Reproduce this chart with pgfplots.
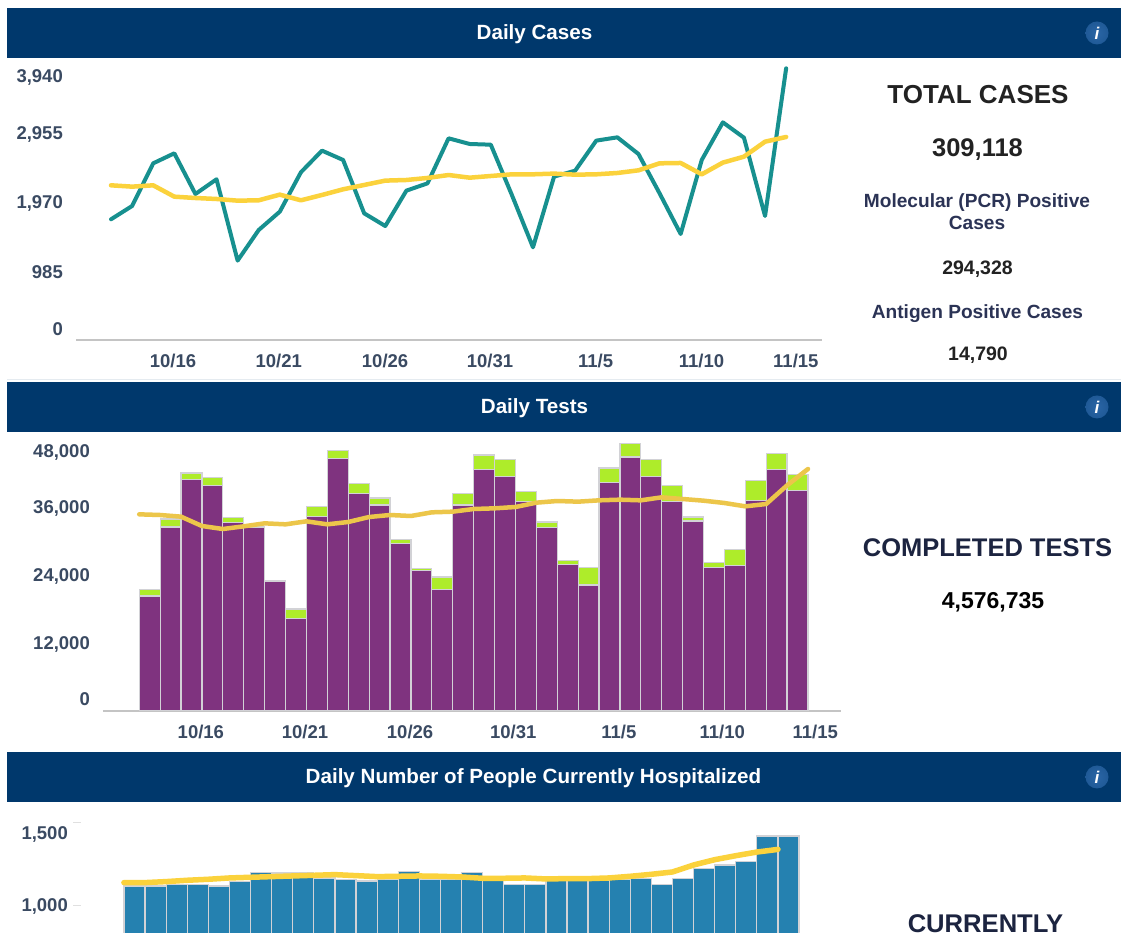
\documentclass[border=0pt]{standalone}
\usepackage{pgfplots}
\usepackage{pgfplotstable}
\usepackage{fontspec}
\setmainfont{Liberation Sans}
\pgfplotsset{compat=1.18}
\definecolor{hdr}{HTML}{00386C}
\definecolor{tickc}{HTML}{3A4A62}
\definecolor{panel}{HTML}{1C2440}
\definecolor{navy2}{HTML}{2B3355}
\definecolor{char}{HTML}{222222}
\definecolor{teal1}{HTML}{17908F}
\definecolor{yel}{HTML}{FBD23C}
\definecolor{yel2}{HTML}{ECC64A}
\definecolor{purp}{HTML}{7F337F}
\definecolor{lime}{HTML}{AEEC2A}
\definecolor{blue1}{HTML}{2581B0}
\definecolor{edge}{HTML}{D2D2D6}
\definecolor{axc}{HTML}{C4C4C4}
\definecolor{icon}{HTML}{2A65A5}

\pgfplotstableread{
i v a
0 1723 2208
1 1913 2189
2 2522 2208
3 2665 2046
4 2084 2027
5 2294 2013
6 1133 1989
7 1570 1994
8 1832 2075
9 2394 1994
10 2703 2070
11 2570 2151
12 1808 2213
13 1627 2275
14 2132 2284
15 2236 2313
16 2879 2355
17 2798 2317
18 2788 2341
19 2070 2365
20 1323 2365
21 2332 2375
22 2417 2360
23 2846 2365
24 2893 2384
25 2655 2422
26 2094 2522
27 1513 2527
28 2570 2365
29 3107 2532
30 2888 2617
31 1770 2831
32 3878 2898
}\casestable

\pgfplotstableread{
i p g
0 20293 1118
1 32469 1412
2 40880 1118
3 39763 1412
4 33292 882
5 32469 30
6 22822 235
7 16293 1706
8 34351 1765
9 44527 1470
10 38351 1765
11 36351 1235
12 29586 647
13 24763 412
14 21410 2235
15 36351 2000
16 42586 2588
17 41409 2941
18 36939 1765
19 32410 941
20 25881 647
21 22234 3117
22 40351 2529
23 44821 2353
24 41409 2941
25 36998 2823
26 33527 706
27 25351 882
28 25646 2882
29 37174 3529
30 42586 2882
31 38939 2823
}\teststable

\pgfplotstableread{
x a
-0.5 34704
0.5 34586
1.5 34292
2.5 32645
3.5 32116
4.5 32586
5.5 33116
6.5 32939
7.5 33469
8.5 32939
9.5 33351
10.5 34233
11.5 34586
12.5 34410
13.5 35057
14.5 35174
15.5 35645
16.5 35763
17.5 35998
18.5 36763
19.5 37057
20.5 36939
21.5 37174
22.5 37292
23.5 37174
24.5 37704
25.5 37410
26.5 37115
27.5 36704
28.5 36115
29.5 36527
30.5 39821
31.5 42703
}\testavg

\pgfplotstableread{
i h
0 1118
1 1118
2 1127
3 1129
4 1118
5 1145
6 1199
7 1197
8 1197
9 1167
10 1159
11 1149
12 1159
13 1207
14 1161
15 1159
16 1199
17 1155
18 1129
19 1129
20 1155
21 1155
22 1155
23 1161
24 1165
25 1129
26 1165
27 1225
28 1245
29 1265
30 1420
31 1420
}\hosptable

\pgfplotstableread{
x a
-0.5 1139
0.5 1139
1.5 1145
2.5 1153
3.5 1159
4.5 1167
5.5 1171
6.5 1175
7.5 1179
8.5 1183
9.5 1187
10.5 1181
11.5 1175
12.5 1177
13.5 1179
14.5 1177
15.5 1173
16.5 1165
17.5 1165
18.5 1167
19.5 1161
20.5 1163
21.5 1163
22.5 1167
23.5 1177
24.5 1189
25.5 1203
26.5 1245
27.5 1277
28.5 1301
29.5 1323
30.5 1339
}\hospavg

\newcommand{\fs}[1]{\fontsize{#1}{#1}\selectfont\bfseries}
% centred text line: x, y of the vertical centre (pixels from the top), size, colour, text
\newcommand{\lab}[5]{%
  \pgfmathsetmacro{\yy}{933-(#2)-0.358*#3}%
  \node[anchor=base,inner sep=0pt,text=#4,font=\fs{#3}] at (#1pt,\yy pt) {#5};}
\newcommand{\header}[3]{%
  \pgfmathsetmacro{\yt}{933-#1}%
  \pgfmathsetmacro{\yb}{933-#1-50}%
  \pgfmathsetmacro{\yc}{933-#1-25}%
  \fill[hdr] (7pt,\yt pt) rectangle (1121pt,\yb pt);
  \shade[inner color=icon,outer color=icon!75!hdr] (1097pt,\yc pt) circle (11.5pt);
  \node[text=white,font=\fontsize{17}{17}\selectfont\bfseries\itshape,inner sep=0pt] at (1097pt,\yc pt) {i};
  \lab{#2}{#1+24.5}{20.6}{white}{#3}}

\pgfplotsset{
  common/.style={
    scale only axis, anchor=south west, axis y line*=left, axis x line*=bottom,
    y axis line style={draw=none},
    x axis line style={draw=axc,line width=1.3pt,-},
    tick style={draw=none}, major tick length=0pt,
    tick label style={font=\fs{18.5},text=tickc},
    scaled y ticks=false,
    yticklabel style={anchor=east,inner sep=0pt,xshift=-13pt,yshift=-1pt},
    xticklabel style={anchor=base,inner sep=0pt,yshift=-27.5pt},
    clip=true,
  },
  line/.style={sharp plot,no markers,line join=round,line cap=round,#1},
}

\begin{document}
\begin{tikzpicture}
\clip (0pt,0pt) rectangle (1121pt,933pt);
\fill[white] (0pt,0pt) rectangle (1121pt,933pt);
\header{8}{534.5}{Daily Cases}
\header{382}{534.5}{Daily Tests}
\header{752}{533.5}{Daily Number of People Currently Hospitalized}
\draw[hdr!10,line width=0.8pt] (7pt,553.5pt) -- (1121pt,553.5pt);

% ---------- Daily cases
\begin{axis}[common, at={(76pt,593pt)}, width=746pt, height=276pt,
  xmin=-1.66, xmax=33.7, ymin=0, ymax=3940,
  ytick={171,985,1970,2955,3755},
  yticklabels={0,985,{1,970},{2,955},{3,940}},
  xtick={2.94,7.95,12.99,17.96,22.97,27.99,32.46},
  xticklabels={10/16,10/21,10/26,10/31,11/5,11/10,11/15}]
\addplot[line={teal1,line width=4pt}] table[x=i,y=v] {\casestable};
\addplot[line={yel,line width=4.5pt}] table[x=i,y=a] {\casestable};
\end{axis}

% ---------- Daily tests
\begin{axis}[common, at={(103pt,222pt)}, width=738pt, height=272pt,
  xmin=-2.234, xmax=33.08, ymin=0, ymax=48000,
  ybar stacked, bar width=1,
  ytick={2294,12000,24000,36000,45882},
  yticklabels={0,{12,000},{24,000},{36,000},{48,000}},
  xtick={2.45,7.43,12.46,17.4,22.45,27.4,31.85},
  xticklabels={10/16,10/21,10/26,10/31,11/5,11/10,11/15}]
\addplot[fill=purp,draw=edge,line width=1.2pt] table[x=i,y=p] {\teststable};
\addplot[fill=lime,draw=edge,line width=1.2pt] table[x=i,y=g] {\teststable};
\end{axis}
\begin{axis}[scale only axis, anchor=south west, at={(103pt,222pt)}, width=738pt, height=272pt,
  xmin=-2.234, xmax=33.08, ymin=0, ymax=48000, hide axis]
\addplot[line={yel2,line width=4.5pt}] table[x=x,y=a] {\testavg};
\end{axis}

% ---------- Hospitalized (cut off by the picture's lower edge)
\begin{axis}[common, at={(81pt,-5pt)}, width=759pt, height=128pt,
  xmin=-2.535, xmax=33.44, ymin=805.3, ymax=1576.3,
  axis x line=none, ybar, bar width=1, bar shift=0pt,
  ytick={1000,1500}, yticklabels={,},
  ytick style={draw=black!12,line width=0.8pt},
  tick align=outside, ytick pos=left, major tick length=8pt,
  extra y ticks={1000,1432},
  extra y tick labels={{1,000},{1,500}},
  extra y tick style={major tick length=0pt,tick style={draw=none}},
  xtick=\empty]
\addplot[fill=blue1,draw=edge,line width=1.2pt] table[x=i,y=h] {\hosptable};
\addplot[line={yel,line width=5.5pt}] table[x=x,y=a] {\hospavg};
\end{axis}

% ---------- Right-hand panels
\lab{978}{94}{26}{char}{TOTAL CASES}
\lab{977.5}{147}{25.5}{char}{309,118}
\lab{977}{200.5}{19.1}{navy2}{Molecular (PCR) Positive}
\lab{977}{223}{19.1}{navy2}{Cases}
\lab{977.5}{268}{19.5}{char}{294,328}
\lab{977.5}{311.5}{19.1}{navy2}{Antigen Positive Cases}
\lab{978}{354}{19.5}{char}{14,790}
\lab{987.5}{547}{25.5}{panel}{COMPLETED TESTS}
\lab{993}{600}{23}{black}{4,576,735}
\lab{985.5}{923.3}{25.6}{panel}{CURRENTLY}
\end{tikzpicture}
\end{document}
